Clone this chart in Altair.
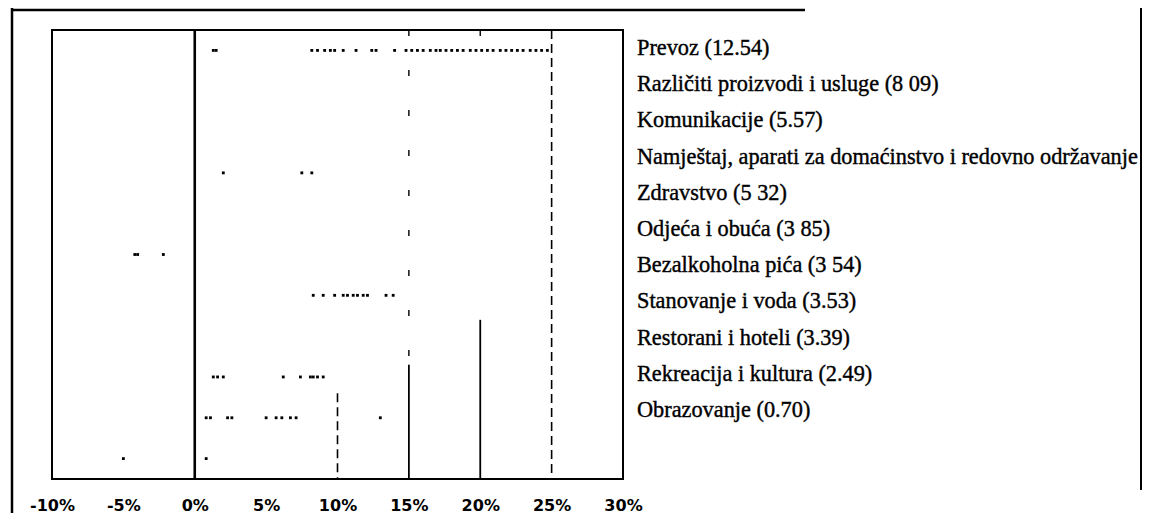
import altair as alt
import pandas as pd

# ---- data ----
categories = [
    "Prevoz (12.54)",
    "Različiti proizvodi i usluge (8 09)",
    "Komunikacije (5.57)",
    "Namještaj, aparati za domaćinstvo i redovno održavanje",
    "Zdravstvo (5 32)",
    "Odjeća i obuća (3 85)",
    "Bezalkoholna pića (3 54)",
    "Stanovanje i voda (3.53)",
    "Restorani i hoteli (3.39)",
    "Rekreacija i kultura (2.49)",
    "Obrazovanje (0.70)",
]

prevoz_pts = [1.3, 1.5, 8.2, 8.6, 9.1, 9.5, 9.8, 10.4, 11.3, 12.4, 12.7, 14.0,
              14.8, 15.2, 15.6, 16.0, 16.5, 16.9, 17.2, 17.6, 18.0, 18.4, 18.8,
              19.3, 19.7, 20.1, 20.5, 20.9, 21.4, 21.8, 22.2, 22.6, 23.0, 23.5,
              23.9, 24.3, 24.7]
razliciti_pts = []
komunikacije_pts = []
namjestaj_pts = [2.0, 7.5, 8.2]
zdravstvo_pts = []
odjeca_pts = [-4.2, -4.0, -2.2]
bezalkoholna_pts = [8.3, 9.0, 9.8, 10.4, 10.7, 11.1, 11.4, 11.8, 12.1, 13.4, 13.9]
stanovanje_pts = []
restorani_pts = [1.3, 1.6, 2.0, 6.2, 7.4, 8.1, 8.3, 8.6, 9.0]
rekreacija_pts = [0.8, 1.1, 2.3, 2.6, 5.0, 5.7, 6.1, 6.7, 7.1, 13.0]
obrazovanje_pts = [-5.0, 0.8]

all_pts = [prevoz_pts, razliciti_pts, komunikacije_pts, namjestaj_pts,
           zdravstvo_pts, odjeca_pts, bezalkoholna_pts, stanovanje_pts,
           restorani_pts, rekreacija_pts, obrazovanje_pts]

# vertical reference lines (x in %, extent in row units, 0 = top, 11 = bottom)
zero_x = [0]
solid_x = [15, 20]
solid_top = [8.2, 7.1]
solid_bottom = [11, 11]
dashed_x = [10, 25]
dashed_top = [8.9, 0]
dashed_bottom = [11, 11]
sparse_x = [15, 20]
sparse_top = [0, 0]
sparse_bottom = [8.2, 0.8]

x_ticks = [-10, -5, 0, 5, 10, 15, 20, 25, 30]

# ---- tables ----
rows = []
for i, (cat, pts) in enumerate(zip(categories, all_pts)):
    for v in pts:
        rows.append({"cat": cat, "x": v, "row": i + 0.5})
pts_df = pd.DataFrame(rows)

zero_df = pd.DataFrame({"x": zero_x, "top": [0], "bottom": [11]})
solid_df = pd.DataFrame({"x": solid_x, "top": solid_top, "bottom": solid_bottom})
dashed_df = pd.DataFrame({"x": dashed_x, "top": dashed_top, "bottom": dashed_bottom})
sparse_df = pd.DataFrame({"x": sparse_x, "top": sparse_top, "bottom": sparse_bottom})
labels_df = pd.DataFrame({"label": categories})
one = pd.DataFrame({"k": [0]})

xscale = alt.Scale(domain=[-10, 30], nice=False, zero=False)
yscale = alt.Scale(domain=[0, 11], reverse=True, nice=False, zero=False)

xaxis = alt.Axis(values=x_ticks, labelExpr="datum.value + '%'", grid=False,
                 domain=False, ticks=False, tickSize=0, labelFlush=False,
                 labelOverlap=False, labelPadding=18, labelFont="DejaVu Sans",
                 labelFontWeight="bold", labelFontSize=16, labelColor="#000",
                 title=None)


def vrules(df, **kw):
    return alt.Chart(df).mark_rule(color="#000", **kw).encode(
        x=alt.X("x:Q", scale=xscale, axis=xaxis),
        y=alt.Y("top:Q", scale=yscale, axis=None),
        y2="bottom:Q",
    )


zero = vrules(zero_df, strokeWidth=2.6)
solid = vrules(solid_df, strokeWidth=1.8)
dashed = vrules(dashed_df, strokeWidth=1.6, strokeDash=[9, 5])
sparse = vrules(sparse_df, strokeWidth=1.4, strokeDash=[6, 34])

points = alt.Chart(pts_df).mark_square(size=8, color="#000", opacity=1).encode(
    x=alt.X("x:Q", scale=xscale, axis=xaxis),
    y=alt.Y("row:Q", scale=yscale, axis=None),
)

labels = alt.Chart(labels_df).mark_text(
    align="left", baseline="middle", font="Liberation Serif", fontSize=22.3,
    color="#000", stroke="#000", strokeWidth=0.4
).encode(
    x=alt.value(585),
    y=alt.Y("label:N", sort=categories, axis=None,
            scale=alt.Scale(range=[0, 398], paddingInner=0, paddingOuter=0)),
    text="label:N",
)

frame_left = alt.Chart(one).mark_rule(color="#000", strokeWidth=2.5).encode(
    x=alt.value(-40), y=alt.value(-22), y2=alt.value(483))
frame_top = alt.Chart(one).mark_rule(color="#000", strokeWidth=2.5).encode(
    x=alt.value(-40), x2=alt.value(753), y=alt.value(-20))
frame_right = alt.Chart(one).mark_rule(color="#000", strokeWidth=2).encode(
    x=alt.value(1089), y=alt.value(-22), y2=alt.value(460))

chart = alt.layer(
    zero, solid, dashed, sparse, points, labels, frame_left, frame_top, frame_right
).resolve_scale(y="independent").properties(
    width=571,
    height=449,
    autosize=alt.AutoSizeParams(type="none"),
    padding={"left": 44, "top": 22, "right": 520, "bottom": 34},
    background="white",
).configure_view(stroke="#000", strokeWidth=2)

chart.save("out.html", embed_options={"renderer": "svg", "actions": False})
